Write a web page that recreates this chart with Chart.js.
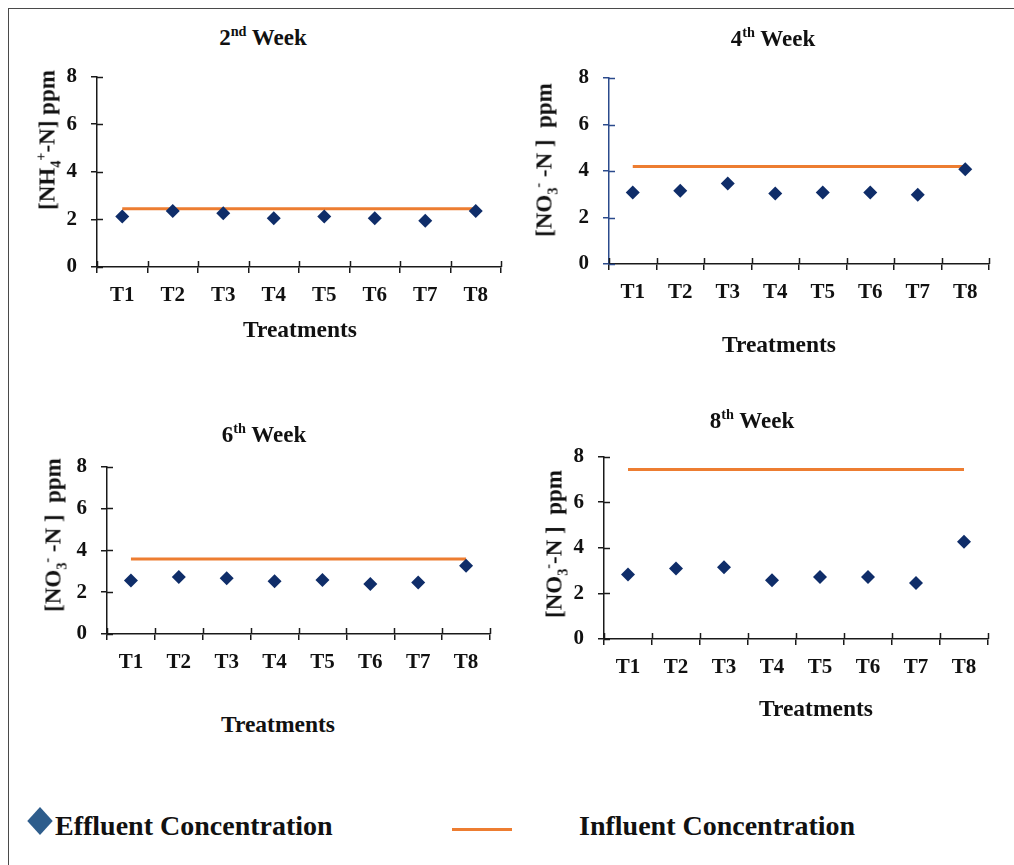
<!DOCTYPE html>
<html>
<head>
<meta charset="utf-8">
<script src="https://cdn.jsdelivr.net/npm/chart.js@4/dist/chart.umd.min.js"></script>
<style>
  html, body { margin: 0; padding: 0; background: #fff; }
  body { width: 1014px; height: 865px; position: relative; overflow: hidden;
         font-family: 'Liberation Serif', 'Times New Roman', serif; color: #111; }
  .frame { position: absolute; left: 8px; top: 8px; right: -4px; bottom: -4px;
           border-top: 1.5px solid #4a4a4a; border-left: 1.5px solid #4a4a4a; }
  .box { position: absolute; }
  .lbl { position: absolute; font-weight: bold; white-space: nowrap;
         transform: translate(-50%, -50%); line-height: 1; }
  .title { font-size: 23px; }
  .xt { font-size: 23.5px; }
  .yt { font-size: 23px; transform: translate(-50%, -50%) rotate(-90deg); }
  sup, sub { font-size: 62%; line-height: 0; }
  .legend { position: absolute; font-weight: bold; font-size: 28px; white-space: nowrap;
            transform: translateY(-50%); line-height: 1; }
  .diamond { position: absolute; width: 18px; height: 18px; background: #2e5d8c;
             left: 40px; top: 821px; transform: translate(-50%, -50%) scaleY(1.1) rotate(45deg); }
  .dash { position: absolute; left: 452px; top: 828px; width: 60px; height: 3px; background: #ed7d31; }
</style>
</head>
<body>
<div class="frame"></div>

<div class="box" id="b1"><canvas id="c1"></canvas></div>
<div class="box" id="b2"><canvas id="c2"></canvas></div>
<div class="box" id="b3"><canvas id="c3"></canvas></div>
<div class="box" id="b4"><canvas id="c4"></canvas></div>

<div class="lbl title" style="left:263px; top:37px;">2<sup>nd</sup> Week</div>
<div class="lbl title" style="left:773px; top:38px;">4<sup>th</sup> Week</div>
<div class="lbl title" style="left:264px; top:434px;">6<sup>th</sup> Week</div>
<div class="lbl title" style="left:752px; top:420px;">8<sup>th</sup> Week</div>

<div class="lbl xt" style="left:300px; top:330px;">Treatments</div>
<div class="lbl xt" style="left:779px; top:345px;">Treatments</div>
<div class="lbl xt" style="left:278px; top:725px;">Treatments</div>
<div class="lbl xt" style="left:816px; top:709px;">Treatments</div>

<div class="lbl yt" style="left:47px; top:140px;">[NH<sub>4</sub><sup>+</sup>-N] ppm</div>
<div class="lbl yt" style="left:544px; top:160px;">[NO<sub>3</sub><sup>-</sup> -N ]&nbsp; ppm</div>
<div class="lbl yt" style="left:53px; top:535px;">[NO<sub>3</sub><sup>-</sup> -N ]&nbsp; ppm</div>
<div class="lbl yt" style="left:554px; top:544px;">[NO<sub>3</sub><sup>-</sup>-N ]&nbsp; ppm</div>

<div class="diamond"></div>
<div class="legend" style="left:55px; top:826px;">Effluent Concentration</div>
<div class="dash"></div>
<div class="legend" style="left:579px; top:826px;">Influent Concentration</div>

<script>
// Treatment categories and y-axis ticks shared by all four panels
const treatments = ['T1', 'T2', 'T3', 'T4', 'T5', 'T6', 'T7', 'T8'];
const yTicks = [0, 2, 4, 6, 8];

// Effluent concentrations (ppm) per treatment
const effluentWeek2 = [2.12, 2.35, 2.26, 2.05, 2.12, 2.05, 1.94, 2.35];
const effluentWeek4 = [3.08, 3.15, 3.46, 3.03, 3.08, 3.08, 2.98, 4.08];
const effluentWeek6 = [2.56, 2.72, 2.66, 2.52, 2.58, 2.39, 2.46, 3.26];
const effluentWeek8 = [2.83, 3.09, 3.15, 2.58, 2.72, 2.72, 2.46, 4.26];

// Influent concentration (ppm), the same feed for every treatment
const influentWeek2 = [2.45, 2.45, 2.45, 2.45, 2.45, 2.45, 2.45, 2.45];
const influentWeek4 = [4.19, 4.19, 4.19, 4.19, 4.19, 4.19, 4.19, 4.19];
const influentWeek6 = [3.58, 3.58, 3.58, 3.58, 3.58, 3.58, 3.58, 3.58];
const influentWeek8 = [7.43, 7.43, 7.43, 7.43, 7.43, 7.43, 7.43, 7.43];

const FONT = "'Liberation Serif', 'Times New Roman', serif";
const EFFLUENT_COLOR = '#0f2d69';
const INFLUENT_COLOR = '#ed7d31';

// Short tick marks on the inner side of both axes, so the ticks cross the axis lines
const crossTicks = {
  id: 'crossTicks',
  afterDatasetsDraw(chart, args, opts) {
    const { ctx } = chart;
    const x = chart.scales.x, y = chart.scales.y;
    const len = 6;
    ctx.save();
    ctx.lineWidth = 1.5;
    ctx.strokeStyle = opts.xColor;
    for (let i = 0; i <= treatments.length; i++) {
      const px = Math.round(x.getPixelForValue(i - 0.5)) + 0.5;
      ctx.beginPath();
      ctx.moveTo(px, y.bottom);
      ctx.lineTo(px, y.bottom - len);
      ctx.stroke();
    }
    ctx.strokeStyle = opts.yColor;
    yTicks.forEach(v => {
      const py = Math.round(y.getPixelForValue(v)) + 0.5;
      ctx.beginPath();
      ctx.moveTo(x.left, py);
      ctx.lineTo(x.left + len, py);
      ctx.stroke();
    });
    ctx.restore();
  }
};

// box: canvas placement on the page; area: where the plot area should sit on the page
function panel(id, box, area, effluent, influent, yColor) {
  const holder = document.getElementById('b' + id);
  holder.style.left = box.x + 'px';
  holder.style.top = box.y + 'px';
  const canvas = document.getElementById('c' + id);
  canvas.width = box.w;
  canvas.height = box.h;
  canvas.style.width = box.w + 'px';
  canvas.style.height = box.h + 'px';
  const xColor = '#1a1a1a';
  yColor = yColor || '#1a1a1a';

  return new Chart(canvas, {
    type: 'line',
    data: {
      labels: treatments,
      datasets: [
        {
          label: 'Effluent Concentration',
          data: effluent,
          showLine: false,
          pointStyle: 'rectRot',
          pointRadius: 7,
          pointBackgroundColor: EFFLUENT_COLOR,
          pointBorderColor: EFFLUENT_COLOR,
          pointBorderWidth: 0,
          borderColor: EFFLUENT_COLOR,
          backgroundColor: EFFLUENT_COLOR
        },
        {
          label: 'Influent Concentration',
          data: influent,
          borderColor: INFLUENT_COLOR,
          backgroundColor: INFLUENT_COLOR,
          borderWidth: 3,
          pointRadius: 0,
          tension: 0
        }
      ]
    },
    options: {
      responsive: false,
      animation: false,
      devicePixelRatio: 1,
      layout: {
        padding: {
          top: area.t - box.y,
          right: box.x + box.w - area.r,
          left: 0,
          bottom: 0
        }
      },
      plugins: {
        legend: { display: false },
        tooltip: { enabled: false },
        crossTicks: { xColor, yColor }
      },
      scales: {
        x: {
          type: 'category',
          offset: true,
          afterFit(s) { s.height = box.y + box.h - area.b; },
          border: { display: true, color: xColor, width: 1.5 },
          grid: { display: true, offset: true, drawOnChartArea: false, drawTicks: true,
                  tickLength: 6, color: xColor, lineWidth: 1.5 },
          ticks: { color: '#111', padding: 10, maxRotation: 0,
                   font: { family: FONT, size: 21, weight: 'bold' } }
        },
        y: {
          min: 0,
          max: 8,
          afterFit(s) { s.width = area.l - box.x; },
          afterBuildTicks(s) { s.ticks = yTicks.map(v => ({ value: v })); },
          border: { display: true, color: yColor, width: 1.5 },
          grid: { display: true, drawOnChartArea: false, drawTicks: true,
                  tickLength: 6, color: yColor, lineWidth: 1.5 },
          ticks: { color: '#111', padding: 14,
                   font: { family: FONT, size: 21, weight: 'bold' } }
        }
      }
    },
    plugins: [crossTicks]
  });
}

panel(1, { x: 10,  y: 50,  w: 500, h: 290 }, { l: 97,  t: 72,  r: 501, b: 267 }, effluentWeek2, influentWeek2);
panel(2, { x: 515, y: 50,  w: 490, h: 290 }, { l: 609, t: 78,  r: 989, b: 264 }, effluentWeek4, influentWeek4, '#2b4a8c');
panel(3, { x: 10,  y: 440, w: 495, h: 270 }, { l: 107, t: 462, r: 490, b: 634 }, effluentWeek6, influentWeek6);
panel(4, { x: 515, y: 430, w: 490, h: 270 }, { l: 604, t: 452, r: 988, b: 639 }, effluentWeek8, influentWeek8);
</script>
</body>
</html>
